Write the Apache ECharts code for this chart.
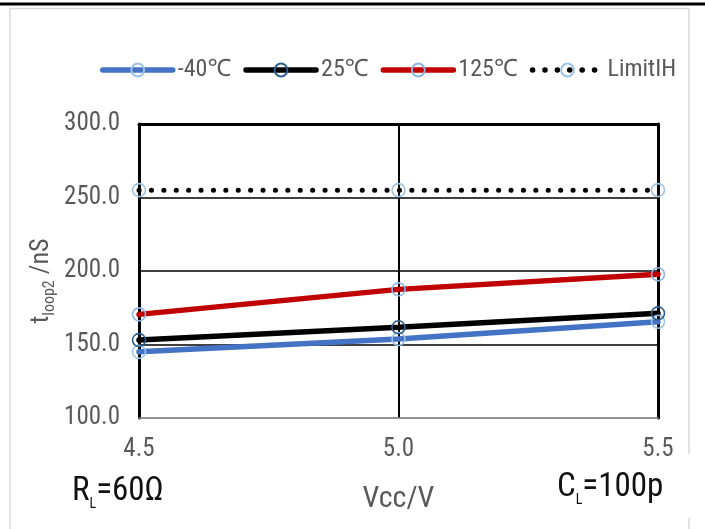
<!DOCTYPE html>
<html>
<head>
<meta charset="utf-8">
<script src="https://cdn.jsdelivr.net/npm/echarts@6/dist/echarts.min.js"></script>
<style>
  html, body { margin: 0; padding: 0; background: #fff; }
  #chart { width: 705px; height: 529px; }
</style>
</head>
<body>
<div id="chart"></div>
<script>
// Supply voltage (V) on the x axis
const vccLabels = ['4.5', '5.0', '5.5'];
// Loop delay t_loop2 (nS) per temperature
const tMinus40 = [145, 153.7, 165.5];
const t25 = [153, 161.7, 171.2];
const t125 = [170.5, 187.5, 197.8];
const limitIH = [255, 255, 255];
// Value axis
const yMin = 100, yMax = 300, yStep = 50;

const FONT = "'Liberation Sans Narrow', 'Arial Narrow', 'Roboto Condensed', 'Noto Sans', sans-serif";
const GREY = '#595959';

const chart = echarts.init(document.getElementById('chart'), null, { renderer: 'canvas' });

function lineSeries(name, data, color, markerColor, extra) {
  return Object.assign({
    name: name,
    type: 'line',
    data: data,
    symbol: 'circle',
    symbolSize: 13,
    showSymbol: true,
    lineStyle: { color: color, width: 5.5, cap: 'round' },
    itemStyle: { color: 'transparent', borderColor: markerColor, borderWidth: 1.6 },
    emphasis: { disabled: true },
    animation: false
  }, extra || {});
}

const subRich = (size, fill) => ({
  b: { fontSize: size, lineHeight: size, verticalAlign: 'top', fill: fill, color: fill, fontFamily: FONT },
  l: { fontSize: 14, lineHeight: 14, padding: [Math.round(size * 0.66), 0, 0, 0], verticalAlign: 'top', fill: fill, color: fill, fontFamily: FONT }
});

chart.setOption({
  backgroundColor: '#ffffff',
  animation: false,
  textStyle: { fontFamily: FONT },
  legend: {
    left: 95,
    top: 53,
    itemWidth: 70,
    itemHeight: 16,
    itemGap: 12,
    lineStyle: { width: 5.5 },
    textStyle: { color: GREY, fontSize: 24, fontFamily: FONT },
    data: ['-40℃', '25℃', '125℃', 'LimitIH']
  },
  grid: { left: 139, right: 47, top: 124, bottom: 111, containLabel: false },
  xAxis: [{
    type: 'category',
    data: vccLabels,
    boundaryGap: false,
    name: 'Vcc/V',
    nameLocation: 'middle',
    nameGap: 66,
    nameTextStyle: { color: GREY, fontSize: 30, fontFamily: FONT },
    axisLine: { show: true, lineStyle: { color: '#8c8c8c', width: 1.5 } },
    axisTick: { show: false },
    axisLabel: { color: GREY, fontSize: 25, margin: 19, fontFamily: FONT },
    splitLine: { show: true, lineStyle: { color: '#000', width: 2 } }
  }, {
    type: 'category',
    data: vccLabels,
    boundaryGap: false,
    position: 'top',
    axisLine: { show: true, lineStyle: { color: '#000', width: 3 } },
    axisTick: { show: false },
    axisLabel: { show: false },
    splitLine: { show: false }
  }],
  yAxis: [{
    type: 'value',
    min: yMin,
    max: yMax,
    interval: yStep,
    axisLine: { show: true, lineStyle: { color: '#000', width: 3 } },
    axisTick: { show: false },
    axisLabel: {
      color: GREY, fontSize: 25, margin: 19, fontFamily: FONT,
      formatter: v => v.toFixed(1)
    },
    splitLine: { show: true, lineStyle: { color: ['#8c8c8c', '#000', '#000', '#000', '#000'], width: 1.5 } }
  }, {
    type: 'value',
    min: yMin,
    max: yMax,
    interval: yStep,
    position: 'right',
    axisLine: { show: true, lineStyle: { color: '#000', width: 3 } },
    axisTick: { show: false },
    axisLabel: { show: false },
    splitLine: { show: false }
  }],
  graphic: [
    // page frame
    { type: 'line', shape: { x1: 0, y1: 4, x2: 705, y2: 4 }, style: { stroke: '#000', lineWidth: 3 }, silent: true },
    { type: 'polyline', shape: { points: [[10, 540], [10, 8.5], [689, 8.5], [689, 454]] }, style: { stroke: '#d9d9d9', lineWidth: 1.5, fill: null }, silent: true },
    { type: 'line', shape: { x1: 689, y1: 518, x2: 689, y2: 540 }, style: { stroke: '#d9d9d9', lineWidth: 1.5 }, silent: true },
    // value axis title, rotated
    {
      type: 'text', x: 41, y: 281, rotation: Math.PI / 2, silent: true,
      style: {
        text: '{t|t}{s|loop2}{t| /nS}',
        align: 'center', verticalAlign: 'middle',
        rich: {
          t: { fontSize: 26, lineHeight: 26, verticalAlign: 'top', fill: GREY, fontFamily: FONT },
          s: { fontSize: 16, lineHeight: 16, padding: [14, 0, 0, 0], verticalAlign: 'top', fill: GREY, fontFamily: FONT }
        }
      }
    },
    // test conditions
    {
      type: 'text', left: 72, top: 475, silent: true,
      style: { text: '{b|R}{l|L}{b|=60Ω}', rich: subRich(33, '#111') }
    },
    {
      type: 'text', left: 557, top: 471, silent: true,
      style: { text: '{b|C}{l|L}{b|=100p}', rich: subRich(33, '#111') }
    }
  ],
  series: [
    lineSeries('-40℃', tMinus40, '#4472C4', '#9DC3E6'),
    lineSeries('25℃', t25, '#000000', '#2E5F8F'),
    lineSeries('125℃', t125, '#C00000', '#8FB4E3'),
    lineSeries('LimitIH', limitIH, '#000000', '#9DC3E6', {
      lineStyle: { color: '#000', width: 5, type: [0.1, 12.3], cap: 'round' }
    })
  ]
});
</script>
</body>
</html>
